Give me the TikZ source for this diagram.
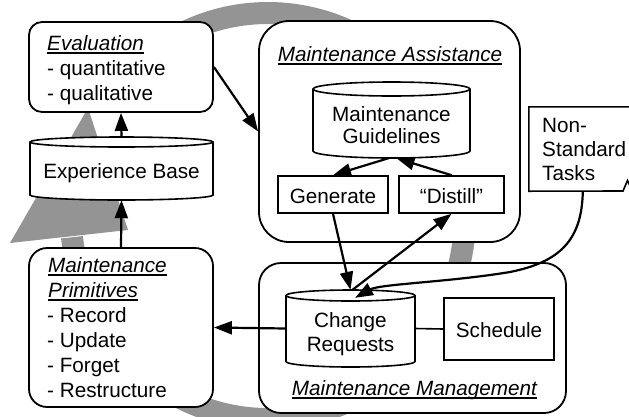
\documentclass[tikz,border=0pt]{standalone}
\usepackage{fontspec}
\setmainfont{Liberation Sans}
\usetikzlibrary{arrows.meta,calc}

% underline drawn just below the baseline, crossing descenders
\newcommand\ulx[1]{\setbox0=\hbox{#1}\leavevmode\rlap{\vrule height -2.2pt depth 3.7pt width \wd0}\box0}

% drum (database cylinder): centre x, top-ellipse y, bottom-ellipse y, x radius, y radius
\newcommand\drawdrum[5]{%
  \filldraw[drum] ({#1-#4},#2) -- ({#1-#4},#3)
    arc[start angle=180,end angle=0,x radius=#4,y radius=#5] -- ({#1+#4},#2)
    arc[start angle=0,end angle=-180,x radius=#4,y radius=#5] -- cycle;
  \draw[drum] ({#1-#4},#2) arc[start angle=180,end angle=0,x radius=#4,y radius=#5];}

\begin{document}
\begin{tikzpicture}[x=1pt,y=-1pt,
  txt/.style={font=\fontsize{20.7}{24}\selectfont, inner sep=0pt},
  roundbox/.style={draw, line width=1.8pt, fill=white, inner sep=0pt},
  plainbox/.style={draw, line width=1.6pt, fill=white, inner sep=0pt,
    font=\fontsize{20.7}{24}\selectfont},
  anchorbox/.style={inner sep=0pt},
  drum/.style={line width=1.6pt, fill=white},
  flow/.style={line width=2.2pt, -{Triangle[length=18pt,width=13pt]}},
  link/.style={line width=1.6pt},
  ring/.style={line width=22pt, draw=black!42},
  ringhead/.style={fill=black!42}]

\useasboundingbox (0,0) rectangle (629,416);

% large grey cycle arrow in the background
\draw[ring] (149.4,53.9) arc[start angle=233,end angle=534,x radius=197,y radius=203];
\fill[ringhead] (10,243) -- (128,230) -- (88,108) -- cycle;

% rounded activity boxes
\node[roundbox, rounded corners=13pt, minimum width=184pt, minimum height=90pt] (eval) at (121,67) {};
\node[roundbox, rounded corners=18pt, minimum width=184pt, minimum height=159pt] (prim) at (121,327.5) {};
\node[roundbox, rounded corners=30pt, minimum width=261pt, minimum height=221pt] (assist) at (389.5,131.5) {};
\node[roundbox, rounded corners=22pt, minimum width=307pt, minimum height=150pt] (mgmt) at (412.5,338) {};

% drums
\drawdrum{121.5}{142}{195}{91.5}{5}
\node[anchorbox, minimum width=183pt, minimum height=63pt] (eb) at (121.5,168.5) {};
\drawdrum{391.5}{89}{151}{78.5}{7}
\node[anchorbox, minimum width=157pt, minimum height=76pt] (mg) at (391.5,120) {};
\drawdrum{350.5}{295.5}{361.5}{64.5}{5.5}
\node[anchorbox, minimum width=129pt, minimum height=77pt] (cr) at (350.5,328.5) {};

% plain boxes
\node[plainbox, minimum width=110pt, text height=27pt, text depth=10pt] (gen) at (333,194.5) {Generate};
\node[plainbox, minimum width=105pt, text height=27pt, text depth=10pt] (dist) at (451.5,194.5) {“Distill”};
\node[plainbox, minimum width=110pt, text height=39pt, text depth=23pt] (sched) at (499,329) {Schedule};

% non-standard tasks sheet
\node[anchorbox, minimum width=120pt, minimum height=84pt] (nst) at (589,149) {};
\fill[white] (nst.north west) rectangle (nst.south east);
\draw[link] (nst.north east) -- (nst.north west) -- (nst.south west) -- (623,191) -- (627.5,180.5) -- (630,186);

% texts
\node[txt, anchor=base west] (evalt) at (47,50) {\ulx{\itshape Evaluation}};
\node[txt, anchor=base west] (evalq1) at (47,75) {- quantitative};
\node[txt, anchor=base west] (evalq2) at (47,100) {- qualitative};

\node[txt, anchor=base] (ebt) at (121.5,178) {Experience Base};

\node[txt, anchor=base west] (primt1) at (48,272) {\ulx{\itshape Maintenance}};
\node[txt, anchor=base west] (primt2) at (48,297) {\ulx{\itshape Primitives}};
\node[txt, anchor=base west] (prim1) at (47,322) {- Record};
\node[txt, anchor=base west] (prim2) at (47,347) {- Update};
\node[txt, anchor=base west] (prim3) at (47,372) {- Forget};
\node[txt, anchor=base west] (prim4) at (47,397) {- Restructure};

\node[txt, anchor=base] (assistt) at (390,61) {\ulx{\itshape Maintenance Assistance}};
\node[txt, anchor=base] (mg1) at (391.5,121) {Maintenance};
\node[txt, anchor=base] (mg2) at (391.5,143) {Guidelines};

\node[txt, anchor=base] (cr1) at (350.5,327) {Change};
\node[txt, anchor=base] (cr2) at (350.5,351) {Requests};
\node[txt, anchor=base] (mgmtt) at (414.5,395) {\ulx{\itshape Maintenance Management}};

\node[txt, anchor=base west] (nst1) at (542,132) {Non-};
\node[txt, anchor=base west] (nst2) at (542,156) {Standard};
\node[txt, anchor=base west] (nst3) at (542,180) {Tasks};

% connectors
\draw[flow] (eb.north) -- (eval.south);
\draw[flow] (prim.north) -- (eb.south);
\draw[flow] (eval.east) -- (assist.west);
\draw[flow] ($(mg.south)+(-3,0)$) -- (gen.north);
\draw[flow] (dist.north) -- ($(mg.south)+(5,0)$);
\draw[flow] (gen.south) -- (cr.north);
\draw[flow] ($(cr.north)+(2,0)$) -- (dist.south);
\draw[flow] (cr.west) -- (prim.east);
\draw[link] (cr.east) -- (sched.west);
\draw[flow] ($(nst.south west)+(54,0)$) .. controls (582,240) and (560,262) .. (510,272)
  .. controls (450,282) and (380,284) .. ($(cr.north)+(4.5,8)$);

\end{tikzpicture}
\end{document}
